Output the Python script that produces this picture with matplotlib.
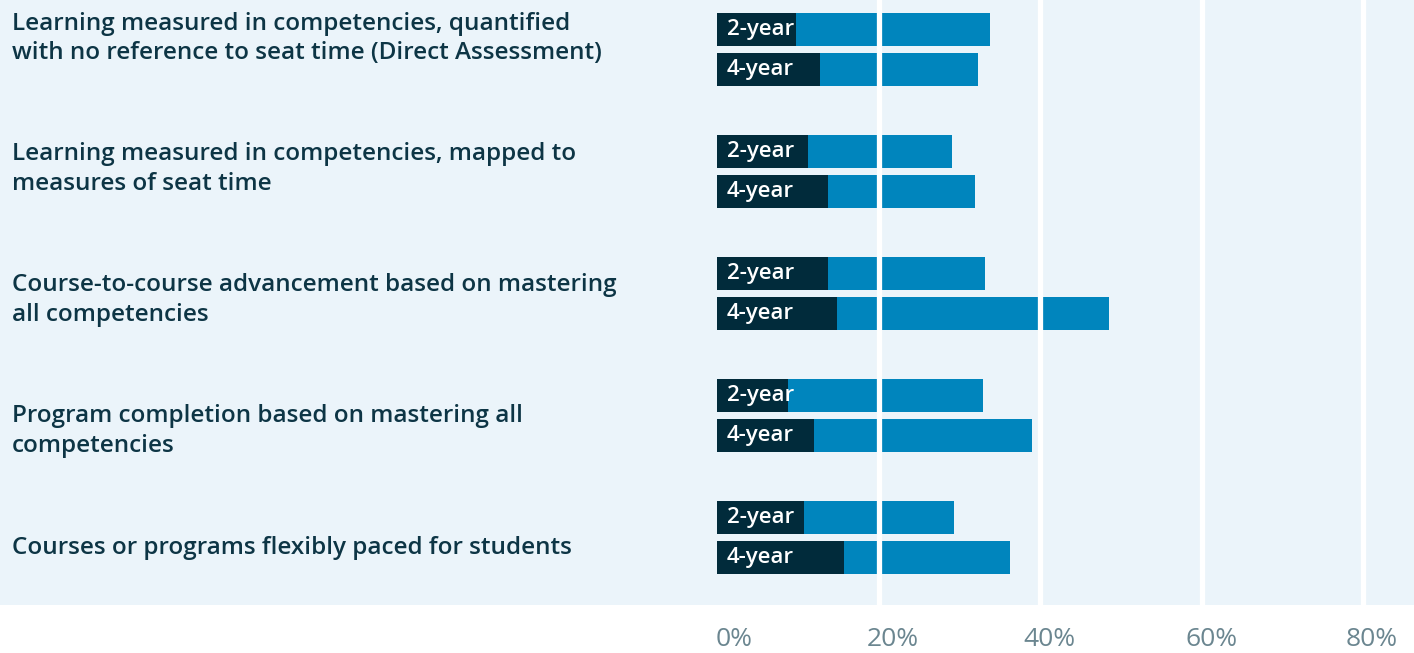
import matplotlib

matplotlib.use("Agg")
import matplotlib.pyplot as plt
import matplotlib.transforms as mtransforms
from matplotlib.patches import Rectangle

categories = [
    "Learning measured in competencies, quantified\nwith no reference to seat time (Direct Assessment)",
    "Learning measured in competencies, mapped to\nmeasures of seat time",
    "Course-to-course advancement based on mastering\nall competencies",
    "Program completion based on mastering all\ncompetencies",
    "Courses or programs flexibly paced for students",
]
series = ["2-year", "4-year"]
# dark segment (first) and total bar length, in percent
dark_2yr = [9.8, 11.3, 13.7, 8.8, 10.8]
total_2yr = [33.8, 29.1, 33.2, 32.9, 29.3]
dark_4yr = [12.8, 13.7, 14.9, 12.0, 15.7]
total_4yr = [32.3, 32.0, 48.5, 39.0, 36.3]
ticks = [0, 20, 40, 60, 80]

C = {
    "panel": "#EBF4FA",
    "dark": "#012B3B",
    "blue": "#0085BD",
    "text": "#0D3545",
    "tick": "#6B8690",
}

W, H = 1414, 653
PANEL_H = 605          # px, light panel height
ROW = 121.9            # px between groups
fig = plt.figure(figsize=(W / 100, H / 100), dpi=100)
fig.patch.set_facecolor("white")
fig.patches.append(Rectangle((0, 1 - PANEL_H / H), 1, PANEL_H / H, transform=fig.transFigure,
                             fc=C["panel"], ec="none", zorder=-5))

ax = fig.add_axes([717 / W, 1 - PANEL_H / H, (W - 717) / W, PANEL_H / H])
ax.set_facecolor("none")
ax.set_zorder(2)
ax.set_xlim(0, (W - 717) / 161.5 * 20)
top = -49.5 / ROW
ax.set_ylim(top + PANEL_H / ROW, top)
for s in ax.spines.values():
    s.set_visible(False)
ax.set_yticks([])
ax.set_xticks([])

n = len(categories)
bh = 33 / ROW
off = 20 / ROW
groups = [(dark_2yr, total_2yr, -off), (dark_4yr, total_4yr, off)]
for (dark, total, dy), name in zip(groups, series):
    ys = [i + dy for i in range(n)]
    blue = [t - d for t, d in zip(total, dark)]
    ax.barh(ys, dark, height=bh, color=C["dark"], zorder=2)
    ax.barh(ys, blue, left=dark, height=bh, color=C["blue"], zorder=2)
    for y in ys:
        ax.annotate(name, (0, y), xytext=(10, 0), textcoords="offset pixels",
                    ha="left", va="center", color="white", fontsize=16,
                    fontfamily="Open Sans", fontweight="semibold", zorder=4)

for t in ticks[1:]:
    ax.axvline(t, color="white", lw=3.8, zorder=3)

# tick labels sit a little right of the gridlines, below the panel
tick_dx = [17, 14, 9, 10, 9]
for t, dx in zip(ticks, tick_dx):
    tr = mtransforms.offset_copy(ax.get_xaxis_transform(), fig=fig, x=dx, y=0, units="dots")
    ax.text(t, -35 / PANEL_H, f"{t}%", transform=tr, ha="center", va="center",
            fontsize=19, color=C["tick"], fontfamily="Open Sans")

# category labels are not exactly centred on their bar pair in the original
label_dy = [-11, -2, 7, 16, 11]
for i, (lab, dy) in enumerate(zip(categories, label_dy)):
    y_fig = ax.transData.transform((0, i))[1] - dy
    fig.text(12 / W, y_fig / H, lab, ha="left", va="center", fontsize=17.5,
             color=C["text"], fontfamily="Open Sans", fontweight="semibold",
             linespacing=1.33)

fig.savefig("out.png", dpi=100, facecolor="white")
